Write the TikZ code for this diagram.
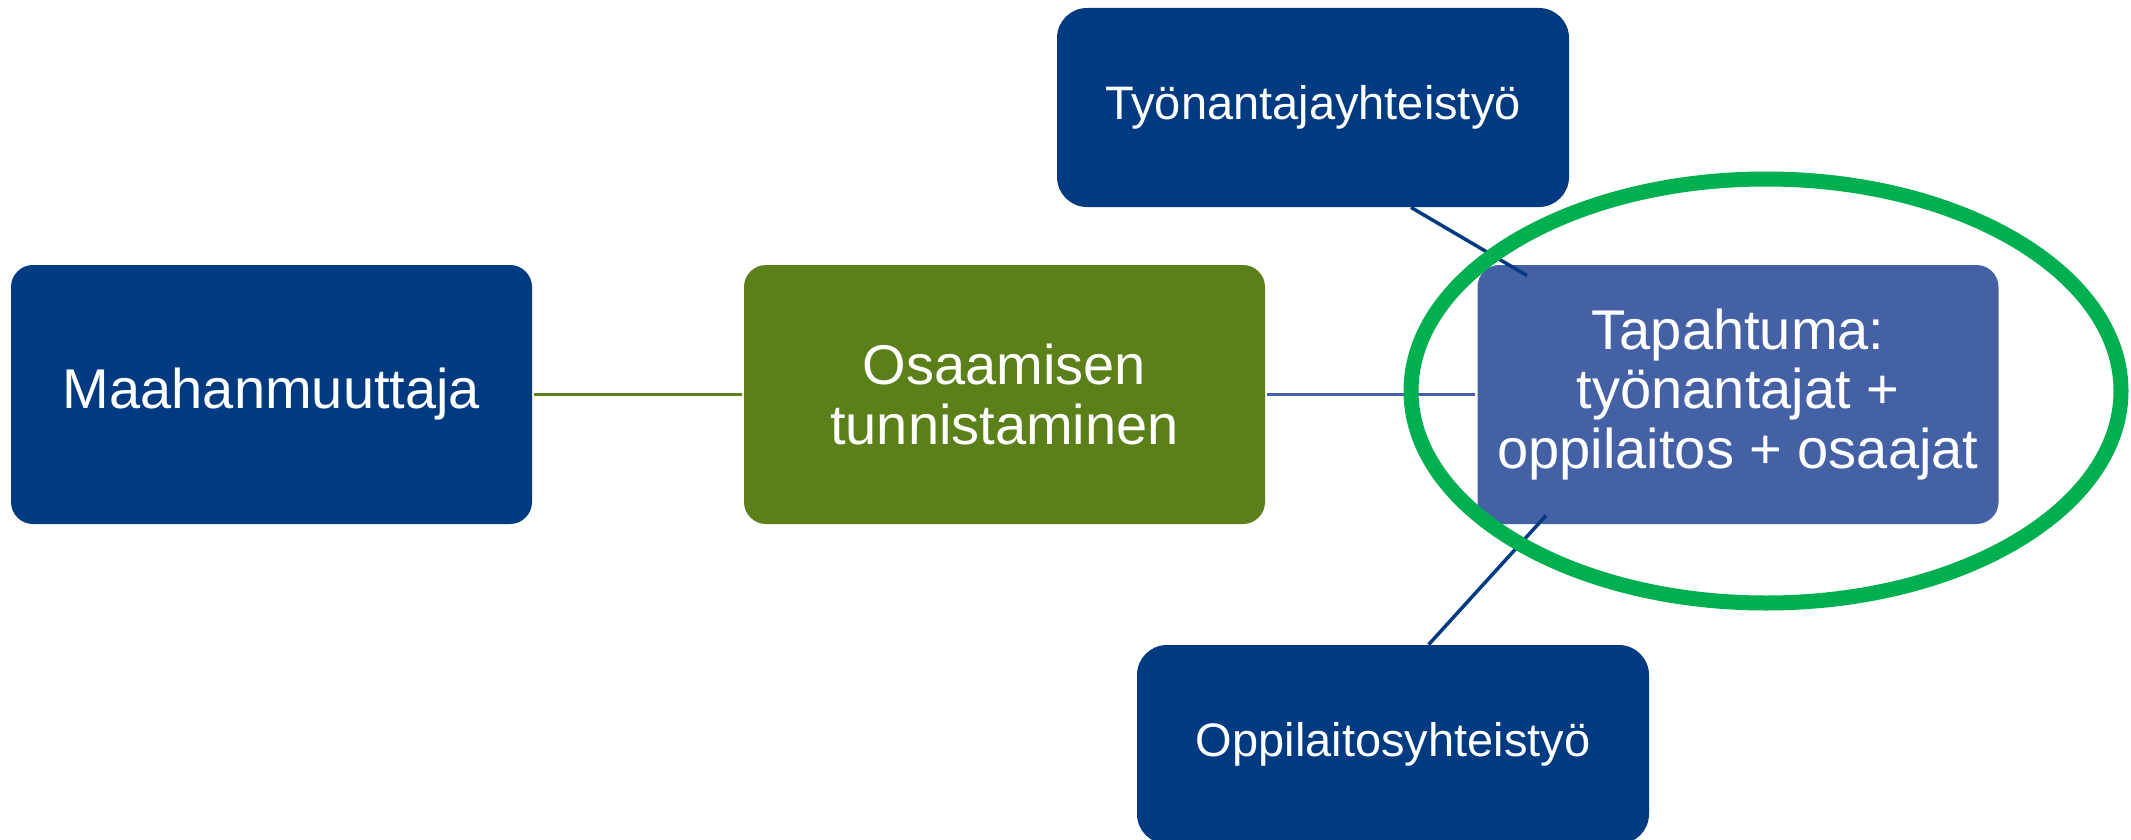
\documentclass[tikz,border=0pt]{standalone}
\usepackage{fontspec}
\setmainfont{Liberation Sans}
\usetikzlibrary{calc}
\definecolor{darkblue}{HTML}{003A80}
\definecolor{boxgreen}{HTML}{5B7F19}
\definecolor{midblue}{HTML}{4561A5}
\definecolor{ringgreen}{HTML}{00AF50}
\begin{document}
\begin{tikzpicture}[x=0.5pt,y=-0.5pt,
  bigbox/.style={rectangle, rounded corners=11pt, minimum width=260.5pt, minimum height=129.5pt,
    inner sep=0pt, text=white, align=center, font=\fontsize{28}{29.7}\selectfont},
  smallbox/.style={rectangle, rounded corners=15pt, fill=darkblue, minimum width=256pt,
    minimum height=99.5pt, inner sep=0pt, text=white, font=\fontsize{23.5}{24}\selectfont},
  link/.style={line width=1.5pt},
  diag/.style={line width=1.75pt, darkblue}]
\useasboundingbox (0,0) rectangle (2131,840);
\clip (0,0) rectangle (2131,840);

\node[bigbox, fill=darkblue] (maah) at (271.5,394.5) {Maahanmuuttaja};
\node[bigbox, fill=boxgreen] (osa) at (1004.5,394.5) {Osaamisen\\tunnistaminen};
\node[bigbox, fill=midblue] (tap) at (1738,394.5) {Tapahtuma:\\työnantajat +\\oppilaitos + osaajat};
\node[smallbox] (tyo) at (1313,107.5) {Työnantajayhteistyö};
\node[smallbox] (opp) at (1393,744.5) {Oppilaitosyhteistyö};

\draw[link, boxgreen, shorten <=1pt, shorten >=1pt] (maah) -- (osa);
\draw[link, midblue, shorten <=1pt, shorten >=1pt] (osa) -- (tap);
\draw[diag] ($(tyo.south)+(98,0)$) -- ($(tap.north west)+(50,11)$);
\draw[diag] ($(tap.south west)+(69,-9)$) -- ($(opp.north west)+(292,0)$);

\draw[ringgreen, line width=7.5pt] (1766,391) ellipse [x radius=177.5pt, y radius=106pt];
\end{tikzpicture}
\end{document}
